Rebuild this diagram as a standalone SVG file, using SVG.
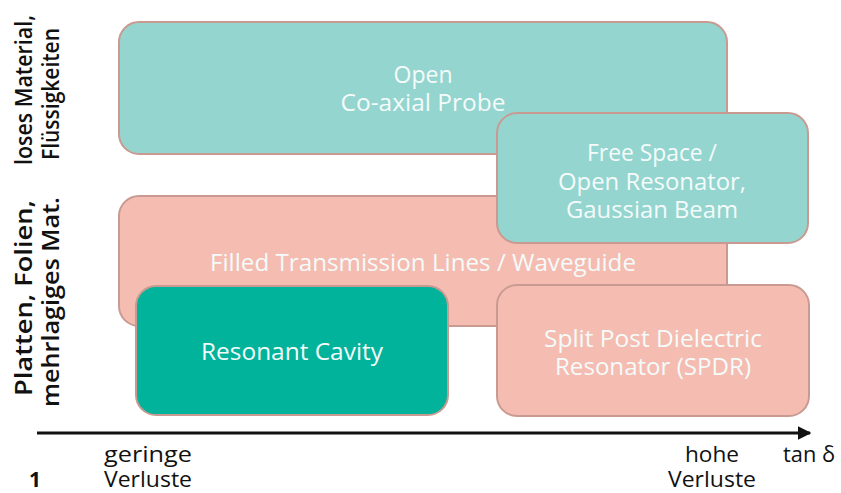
<svg xmlns="http://www.w3.org/2000/svg" width="841" height="493" viewBox="0 0 841 493">
<defs>
<style>
.box{stroke:#c99a92;stroke-width:2}
.teal{fill:#94d5cf}
.pink{fill:#f5bdb1}
.dark{fill:#00b39a}
.lbl{font-family:"Open Sans","Noto Sans",sans-serif;font-size:23px;fill:#f4fbfa;text-anchor:middle}
.side{font-family:"Open Sans","Noto Sans",sans-serif;font-size:24px;font-weight:600;fill:#111;text-anchor:middle}
.ax{font-family:"Open Sans","Noto Sans",sans-serif;font-size:22px;fill:#111;text-anchor:middle}
</style>
<marker id="arr" viewBox="0 0 10 10" refX="9" refY="5" markerWidth="4.5" markerHeight="4.5" orient="auto" markerUnits="strokeWidth">
<path d="M0,0 L10,5 L0,10 z" fill="#111"/>
</marker>
</defs>
<rect width="841" height="493" fill="#ffffff"/>
<g id="label-loses">
<text class="side" transform="translate(32,90) rotate(-90)" textLength="150" lengthAdjust="spacingAndGlyphs">loses Material,</text>
<text class="side" transform="translate(59,94) rotate(-90)" textLength="132" lengthAdjust="spacingAndGlyphs">Flüssigkeiten</text>
</g>
<g id="label-platten">
<text class="side" transform="translate(32,298) rotate(-90)" textLength="196" lengthAdjust="spacingAndGlyphs">Platten, Folien,</text>
<text class="side" transform="translate(59,302) rotate(-90)" textLength="210" lengthAdjust="spacingAndGlyphs">mehrlagiges Mat.</text>
</g>
<g id="open-coax">
<rect class="box teal" x="119" y="22" width="608" height="132" rx="20"/>
<text class="lbl" x="423" y="83">Open</text>
<text class="lbl" x="423" y="111" textLength="165" lengthAdjust="spacingAndGlyphs">Co-axial Probe</text>
</g>
<g id="filled-tl">
<rect class="box pink" x="119" y="196" width="608" height="130" rx="20"/>
<text class="lbl" x="423" y="271" textLength="426" lengthAdjust="spacingAndGlyphs">Filled Transmission Lines / Waveguide</text>
</g>
<g id="free-space">
<rect class="box teal" x="497" y="113" width="311" height="130" rx="20"/>
<text class="lbl" x="652" y="161" textLength="130" lengthAdjust="spacingAndGlyphs">Free Space /</text>
<text class="lbl" x="652" y="190" textLength="188" lengthAdjust="spacingAndGlyphs">Open Resonator,</text>
<text class="lbl" x="652" y="218" textLength="172" lengthAdjust="spacingAndGlyphs">Gaussian Beam</text>
</g>
<g id="resonant-cavity">
<rect class="box dark" x="136" y="286" width="312" height="129" rx="20"/>
<text class="lbl" x="292" y="360" textLength="182" lengthAdjust="spacingAndGlyphs">Resonant Cavity</text>
</g>
<g id="spdr">
<rect class="box pink" x="497" y="285" width="312" height="131" rx="20"/>
<text class="lbl" x="653" y="347" textLength="218" lengthAdjust="spacingAndGlyphs">Split Post Dielectric</text>
<text class="lbl" x="653" y="375" textLength="196" lengthAdjust="spacingAndGlyphs">Resonator (SPDR)</text>
</g>
<g id="connectors">
<line x1="37" y1="433" x2="810" y2="433" stroke="#111" stroke-width="3" marker-end="url(#arr)"/>
</g>
<g id="axis-labels">
<text class="ax" x="148" y="462" textLength="88" lengthAdjust="spacingAndGlyphs">geringe</text>
<text class="ax" x="148" y="487" textLength="88" lengthAdjust="spacingAndGlyphs">Verluste</text>
<text class="ax" x="712" y="462" textLength="54" lengthAdjust="spacingAndGlyphs">hohe</text>
<text class="ax" x="712" y="487" textLength="88" lengthAdjust="spacingAndGlyphs">Verluste</text>
<text class="ax" x="809" y="462" textLength="52" lengthAdjust="spacingAndGlyphs">tan δ</text>
<text x="35" y="487" font-family="'Open Sans','Noto Sans',sans-serif" font-size="21" font-weight="bold" fill="#111" text-anchor="middle">1</text>
</g>
</svg>
